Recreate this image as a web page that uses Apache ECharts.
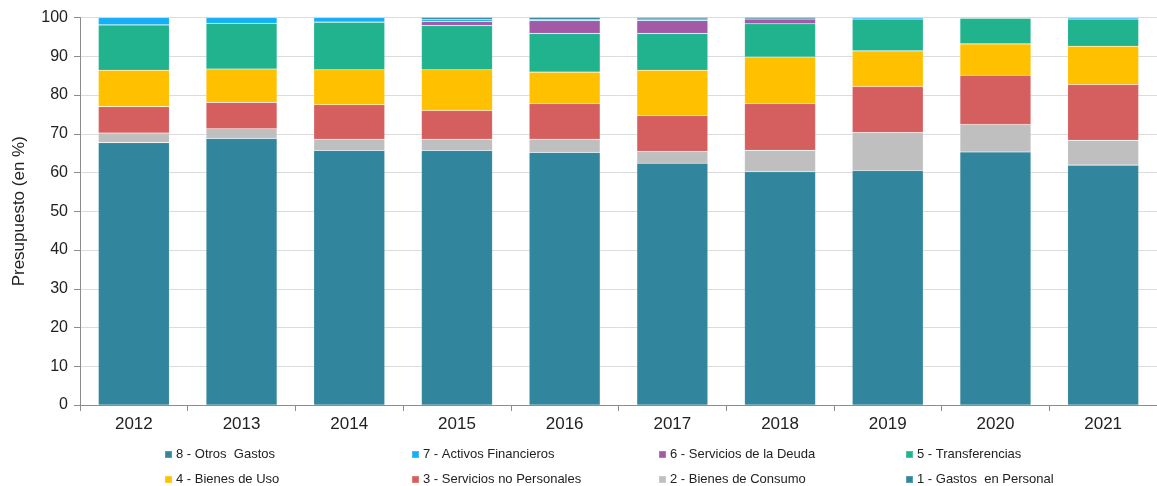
<!DOCTYPE html>
<html lang="es">
<head>
    <meta charset="UTF-8">
    <script src="https://cdn.jsdelivr.net/npm/echarts@6/dist/echarts.min.js"></script>
</head>
<style>
    html, body {
        margin: 0;
        width: 100%;
        height: 100%;
        background: #fff;
    }
</style>
<body>

<div id="main" style="width:1157px;height:486px;"></div>

<script type="text/javascript">

    // años
    let years = ['2012', '2013', '2014', '2015', '2016', '2017', '2018', '2019', '2020', '2021'];

    // porcentaje del presupuesto por inciso
    let personal = [67.7, 68.8, 65.7, 65.7, 65.2, 62.4, 60.2, 60.5, 65.3, 61.9];
    let consumo = [2.5, 2.5, 2.9, 2.9, 3.4, 3.0, 5.5, 9.8, 7.1, 6.4];
    let noPersonales = [6.8, 6.8, 8.9, 7.4, 9.2, 9.3, 12.1, 11.9, 12.7, 14.4];
    let bienesUso = [9.4, 8.6, 9.0, 10.5, 8.1, 11.7, 12.0, 9.2, 8.1, 9.9];
    let transferencias = [11.7, 11.8, 12.3, 11.4, 10.0, 9.5, 8.6, 8.2, 6.6, 7.0];
    let deuda = [0, 0, 0, 1.1, 3.3, 3.3, 1.2, 0, 0, 0];
    let activos = [1.9, 1.5, 1.2, 0.5, 0.3, 0.4, 0, 0.4, 0.2, 0.4];
    let otros = [0, 0, 0, 0.5, 0.5, 0.4, 0.4, 0, 0, 0];

    let names = ['1 - Gastos  en Personal', '2 - Bienes de Consumo', '3 - Servicios no Personales', '4 - Bienes de Uso',
        '5 - Transferencias', '6 - Servicios de la Deuda', '7 - Activos Financieros', '8 - Otros  Gastos'];
    let values = [personal, consumo, noPersonales, bienesUso, transferencias, deuda, activos, otros];
    let colors = ['#31859c', '#bfbfbf', '#d55f5f', '#ffc000', '#20b38e', '#a259a6', '#13b0f8', '#31859c'];

    // orden de la leyenda: 8,7,6,5 arriba / 4,3,2,1 abajo
    let legendOrder = [7, 6, 5, 4, 3, 2, 1, 0];

    let font = "'Liberation Sans', Arial, sans-serif";

    let myEcharts = echarts.init(document.getElementById('main'));

    let series = names.map(function (n, i) {
        return {
            name: n,
            type: 'bar',
            stack: 'total',
            barWidth: 71,
            data: values[i],
            itemStyle: {
                color: colors[i],
                borderColor: 'rgba(255,255,255,0.2)',
                borderWidth: 0.6
            }
        };
    });

    // una leyenda por elemento para que queden en columnas
    let legends = legendOrder.map(function (idx, k) {
        return {
            top: k < 4 ? 448 : 473,
            left: 164 + (k % 4) * 247,
            padding: 0,
            icon: 'rect',
            itemWidth: 7,
            itemHeight: 7,
            itemGap: 0,
            data: [names[idx]],
            textStyle: {fontFamily: font, fontSize: 13, color: '#222', padding: [0, 0, 0, -1]}
        };
    });

    let option = {
        animation: false,
        color: colors,
        legend: legends,
        grid: {
            left: 80,
            right: -8,
            top: 17.5,
            bottom: 81
        },
        xAxis: {
            type: 'category',
            data: years,
            axisLine: {lineStyle: {color: '#8c8c8c'}},
            axisTick: {show: true, length: 6, lineStyle: {color: '#8c8c8c'}},
            axisLabel: {fontFamily: font, fontSize: 17, color: '#222', margin: 11}
        },
        yAxis: {
            type: 'value',
            min: 0,
            max: 100,
            interval: 10,
            name: 'Presupuesto (en %)',
            nameLocation: 'middle',
            nameRotate: 90,
            nameGap: 52,
            nameTextStyle: {fontFamily: font, fontSize: 17, color: '#222'},
            axisLine: {show: true, lineStyle: {color: '#8c8c8c'}},
            axisTick: {show: true, length: 6, lineStyle: {color: '#8c8c8c'}},
            axisLabel: {fontFamily: font, fontSize: 16, color: '#222', margin: 12},
            splitLine: {lineStyle: {color: '#dcdcdc'}}
        },
        series: series
    };

    myEcharts.setOption(option);

</script>
</body>
</html>
